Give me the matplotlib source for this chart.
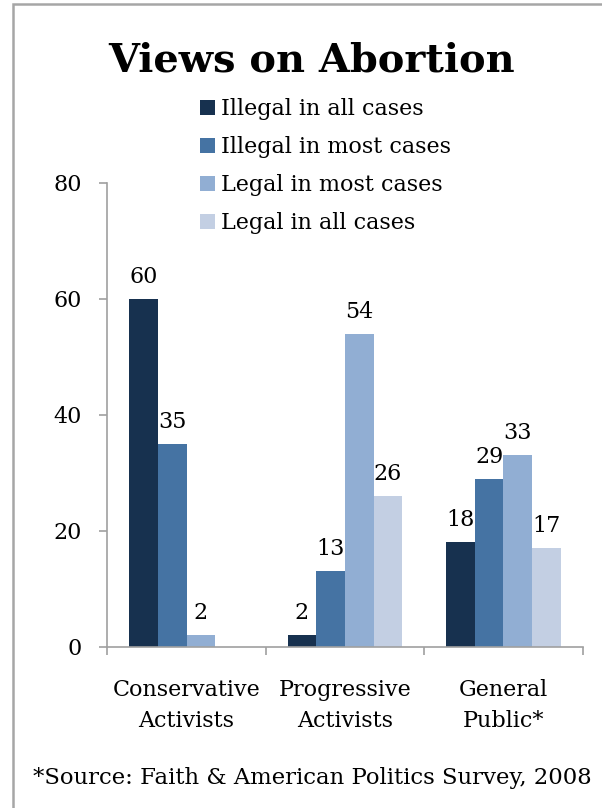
import matplotlib
matplotlib.use("Agg")
import matplotlib.pyplot as plt
from matplotlib.patches import Patch, Rectangle
import numpy as np

# Datos
categorias = ["Conservative\nActivists", "Progressive\nActivists", "General\nPublic*"]
series = ["Illegal in all cases", "Illegal in most cases",
          "Legal in most cases", "Legal in all cases"]
illegal_all = [60, 2, 18]
illegal_most = [35, 13, 29]
legal_most = [2, 54, 33]
legal_all = [None, 26, 17]
colores = ["#17314f", "#4573a3", "#91aed3", "#c3cfe3"]

plt.rcParams['font.family'] = ['DejaVu Serif']

fig = plt.figure(figsize=(6.02, 8.08), dpi=100)
ax = fig.add_axes([107.3 / 602, 161.3 / 808, 475.4 / 602, 464 / 808])

x = np.arange(len(categorias))
ancho = 0.181
valores = [illegal_all, illegal_most, legal_most, legal_all]
for i, (vals, color) in enumerate(zip(valores, colores)):
    for xi, v in zip(x, vals):
        if v is None:
            continue
        pos = xi + (i - 1.5) * ancho
        ax.bar(pos, v, width=ancho, color=color, edgecolor='none')
        ax.annotate(str(v), (pos, v), xytext=(0, 11.5), textcoords='offset points',
                    ha='center', va='baseline', fontsize=16)

ax.set_xlim(-0.5, 2.5)
ax.set_ylim(0, 80)
ax.set_yticks([0, 20, 40, 60, 80])
ax.tick_params(axis='y', length=5.8, width=1.2, color='#a0a0a0', labelsize=16, pad=12.7)
ax.set_xticks([-0.5, 0.5, 1.5, 2.5])
ax.set_xticklabels([])
ax.tick_params(axis='x', which='major', length=5.8, width=1.2, color='#a0a0a0')
ax.set_xticks(x, categorias, minor=True)
ax.tick_params(axis='x', which='minor', length=0, labelsize=16, pad=23)
for lbl in ax.get_xticklabels(minor=True):
    lbl.set_linespacing(1.55)

for s in ['top', 'right']:
    ax.spines[s].set_visible(False)
for s in ['left', 'bottom']:
    ax.spines[s].set_color('#a0a0a0')
    ax.spines[s].set_linewidth(1.2)

# Leyenda
handles = [Patch(facecolor=c, edgecolor='none') for c in colores]
fig.legend(handles, series, loc='upper left', bbox_to_anchor=(200 / 602, 1 - 98 / 808),
           frameon=False, fontsize=16, handlelength=0.68, handleheight=0.68,
           handletextpad=0.27, labelspacing=0.72, borderpad=0, borderaxespad=0)

# Título y nota
fig.text(312 / 602, 1 - 71.7 / 808, "Views on Abortion", ha='center', va='baseline',
         fontsize=28.7, fontweight='bold')
fig.text(312 / 602, 1 - 784 / 808, "*Source: Faith & American Politics Survey, 2008",
         ha='center', va='baseline', fontsize=16.4)

# Marco exterior
fig.patches.append(Rectangle((12.7 / 602, -0.05), 1.2, 1 - 4.5 / 808 + 0.05,
                             transform=fig.transFigure, fill=False,
                             edgecolor='#a6a6a6', linewidth=1.8))

fig.savefig("out.png", dpi=100)
